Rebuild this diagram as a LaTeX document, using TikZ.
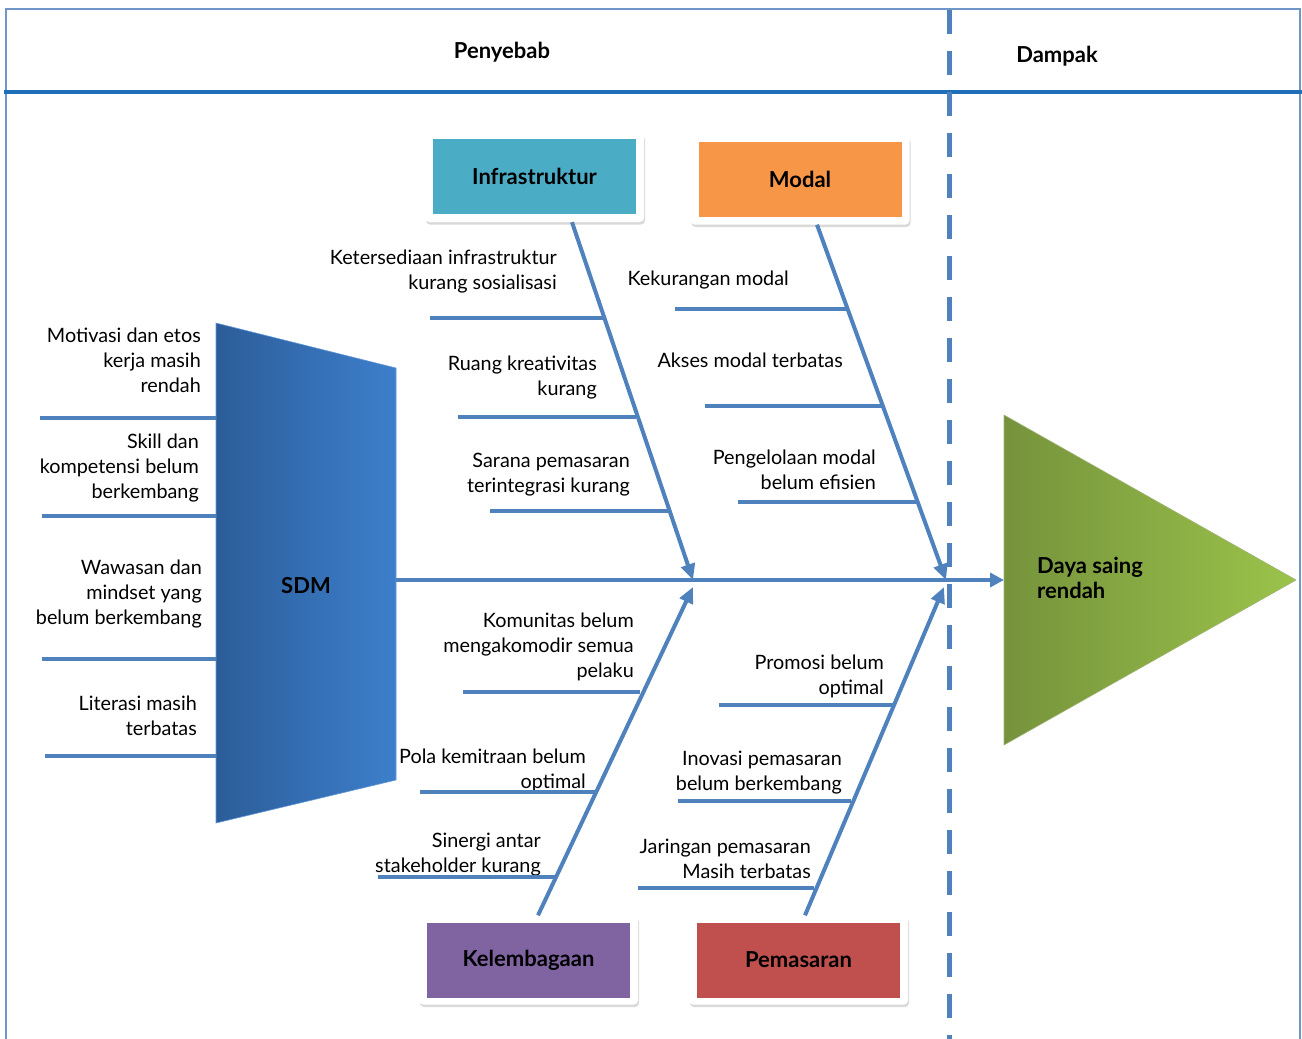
\documentclass[tikz,border=0pt]{standalone}
\usepackage{fontspec}
\setmainfont{Lato}
\usetikzlibrary{arrows.meta,shadows}
\definecolor{boneblue}{RGB}{79,129,189}
\definecolor{headblue}{RGB}{31,110,184}
\definecolor{frameblue}{RGB}{110,150,200}
\definecolor{infracyan}{RGB}{75,172,198}
\definecolor{modalorange}{RGB}{247,150,70}
\definecolor{lembpurple}{RGB}{128,100,162}
\definecolor{pasarred}{RGB}{192,80,77}
\definecolor{sdmdark}{RGB}{44,93,153}
\definecolor{sdmlight}{RGB}{61,127,204}
\definecolor{effdark}{RGB}{118,147,60}
\definecolor{efflight}{RGB}{155,195,75}
\newcommand{\causefont}{\fontsize{19.8}{25}\selectfont}
\newcommand{\titlefont}{\fontsize{22}{25}\selectfont\bfseries}

\begin{document}
\begin{tikzpicture}[
  x=1pt, y=-1pt,
  title/.style={font=\titlefont, inner sep=0pt},
  cause/.style={font=\causefont, align=right, inner sep=0pt, anchor=north east},
  catframe/.style={fill=white, rounded corners=4pt, minimum width=219pt, minimum height=89pt,
                   inner sep=0pt, drop shadow={opacity=0.3, shadow xshift=1pt, shadow yshift=-2.5pt}},
  catbox/.style={minimum width=203pt, minimum height=75pt, inner sep=0pt, font=\titlefont},
  bone/.style={boneblue, line width=4pt, -{Triangle[length=16pt, width=14pt]}},
  rib/.style={boneblue, line width=4pt},
  divider/.style={boneblue, line width=5pt, dash pattern=on 24pt off 17pt}
]
  \useasboundingbox (0,0) rectangle (1302,1039);

  % frame and header
  \draw[frameblue, line width=1.5pt] (6,1039) -- (6,9) -- (1300,9) -- (1300,1039);
  \draw[headblue, line width=3.5pt] (4,92) -- (1302,92);
  \draw[divider] (949,10) -- (949,1039);
  \node[title] (cause) at (502,52) {Penyebab};
  \node[title] (impact) at (1057,56) {Dampak};

  % head and tail
  \shade[left color=sdmdark, right color=sdmlight, draw=sdmlight!80!white, line width=0.6pt]
    (216,323) -- (396,368) -- (396,780) -- (216,823) -- cycle;
  \node[title] (sdm) at (306,586) {SDM};
  \shade[left color=effdark, right color=efflight, draw=effdark!70!white, line width=0.6pt]
    (1004,415) -- (1296,580) -- (1004,745) -- cycle;
  \node[title, align=left, anchor=west] (effect) at (1037,578) {Daya saing\\rendah};

  \coordinate (sdmR) at (396,580);
  \coordinate (effL) at (1004,580);
  \coordinate (headA) at (693,580);
  \coordinate (headB) at (946,580);

  % category boxes
  \node[catframe] (infraF) at (534.5,177.5) {};
  \node[catbox, fill=infracyan] (infra) at (534.5,176.5) {Infrastruktur};
  \node[catframe] (modalF) at (800,180) {};
  \node[catbox, fill=modalorange] (modal) at (800,179) {Modal};
  \node[catframe] (lembF) at (528.5,960) {};
  \node[catbox, fill=lembpurple] (lemb) at (528.5,960) {Kelembagaan};
  \node[catframe] (pasarF) at (798.5,960) {};
  \node[catbox, fill=pasarred] (pasar) at (798.5,960) {Pemasaran};

  % spine and bones
  \draw[boneblue, line width=4pt, -{Triangle[length=14pt, width=14pt]}] (sdmR) -- (effL);
  \draw[bone] ([xshift=37.5pt]infraF.south) -- (headA);
  \draw[bone] ([xshift=17pt]modalF.south) -- (headB);
  \draw[bone] ([xshift=9.5pt]lembF.north) -- ([yshift=-7pt]headA);
  \draw[bone] ([xshift=6.5pt]pasarF.north) -- ([yshift=-7pt, xshift=-2pt]headB);

  % infrastruktur
  \node[cause] (i1) at (557,250) {Ketersediaan infrastruktur\\kurang sosialisasi};
  \node[cause] (i2) at (597,356) {Ruang kreativitas\\kurang};
  \node[cause] (i3) at (630,453) {Sarana pemasaran\\terintegrasi kurang};
  \draw[rib] (430,318) -- (603,318);
  \draw[rib] (458,417) -- (636,417);
  \draw[rib] (490,511) -- (668,511);

  % modal
  \node[cause] (m1) at (789,271) {Kekurangan modal};
  \node[cause] (m2) at (843,353) {Akses modal terbatas};
  \node[cause] (m3) at (876,450) {Pengelolaan modal\\belum efisien};
  \draw[rib] (675,309) -- (848,309);
  \draw[rib] (705,406) -- (882,406);
  \draw[rib] (738,502) -- (916,502);

  % kelembagaan
  \node[cause] (k1) at (634,613) {Komunitas belum\\mengakomodir semua\\pelaku};
  \node[cause] (k2) at (586,749) {Pola kemitraan belum\\optimal};
  \node[cause] (k3) at (541,833) {Sinergi antar\\stakeholder kurang};
  \draw[rib] (463,692) -- (640,692);
  \draw[rib] (420,792) -- (596,792);
  \draw[rib] (378,877) -- (555,877);

  % pemasaran
  \node[cause] (p1) at (884,655) {Promosi belum\\optimal};
  \node[cause] (p2) at (842,751) {Inovasi pemasaran\\belum berkembang};
  \node[cause] (p3) at (811,839) {Jaringan pemasaran\\Masih terbatas};
  \draw[rib] (719,705) -- (893,705);
  \draw[rib] (678,801) -- (851,801);
  \draw[rib] (638,888) -- (814,888);

  % sdm
  \node[cause] (s1) at (201,328) {Motivasi dan etos\\kerja masih\\rendah};
  \node[cause] (s2) at (199,434) {Skill dan\\kompetensi belum\\berkembang};
  \node[cause] (s3) at (202,560) {Wawasan dan\\mindset yang\\belum berkembang};
  \node[cause] (s4) at (197,696) {Literasi masih\\terbatas};
  \draw[rib] (40,418) -- (216,418);
  \draw[rib] (42,516) -- (216,516);
  \draw[rib] (42,659) -- (216,659);
  \draw[rib] (45,756) -- (216,756);
\end{tikzpicture}
\end{document}
